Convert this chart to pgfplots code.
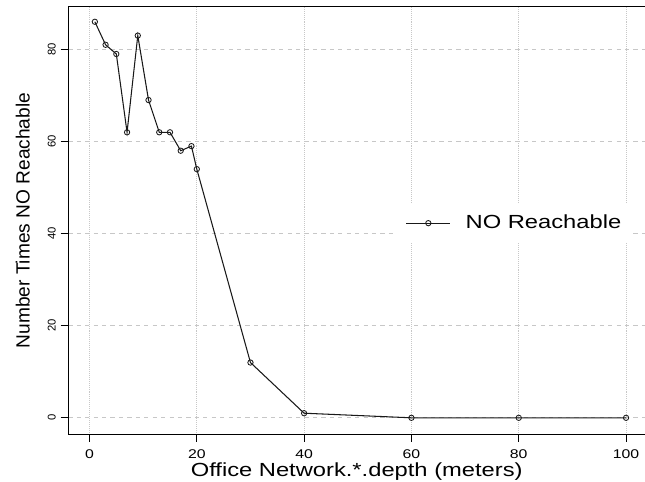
\documentclass[border=0pt]{standalone}
\usepackage{fontspec}
\setmainfont{Liberation Sans}
\newfontfamily\widefont[FakeStretch=1.25]{Liberation Sans}
\usepackage{pgfplots}
\pgfplotsset{compat=1.18}

\begin{document}
\begin{tikzpicture}
\useasboundingbox (0,0) rectangle (16.125cm,12.05cm);
\begin{axis}[
  at={(1.7075cm,1.19cm)}, anchor=south west,
  scale only axis,
  width=14.42cm, height=10.69cm,
  xmin=-3.95, xmax=103.55,
  ymin=-3.6, ymax=89.25,
  xtick={0,20,40,60,80,100},
  ytick={0,20,40,60,80},
  /pgf/number format/assume math mode=true,
  tick align=outside,
  xtick pos=bottom, ytick pos=left,
  major tick length=0.19cm,
  tick style={black, line width=0.6pt},
  axis line style={black, line width=0.7pt},
  xticklabel style={font=\widefont\fontsize{9}{10}\selectfont, yshift=-2pt},
  yticklabel style={font=\fontsize{8}{9}\selectfont, rotate=90, anchor=south},
  xmajorgrids, ymajorgrids,
  x grid style={densely dotted, black!22, line width=0.6pt},
  y grid style={dashed, black!22, line width=0.6pt},
  xlabel={Office Network.*.depth (meters)},
  ylabel={Number Times NO Reachable},
  xlabel style={font=\widefont\fontsize{13.5}{15}\selectfont, at={(axis description cs:0.5,-0.087)}, anchor=center},
  ylabel style={font=\fontsize{13.6}{15}\selectfont, at={(axis description cs:-0.079,0.5)}, anchor=center},
  legend style={draw=none, fill=white, at={(rel axis cs:0.57,0.494)}, anchor=west,
    font=\widefont\fontsize{13.5}{15}\selectfont, column sep=0.3cm, inner xsep=6pt, inner ysep=6pt},
  legend image code/.code={\draw[mark repeat=2,mark phase=2] plot coordinates {(0cm,0cm) (0.55cm,0cm) (1.1cm,0cm)};},
]
\addplot[black!90, line width=0.75pt, mark=o, mark size=1.9pt, mark options={fill=white, line width=0.6pt}] coordinates {
 (1,86) (3,81) (5,79) (7,62) (9,83) (11,69) (13,62) (15,62)
 (17,58) (19,59) (20,54) (30,12) (40,1) (60,0) (80,0) (100,0)};
\addlegendentry{NO Reachable}
\end{axis}
\end{tikzpicture}
\end{document}
